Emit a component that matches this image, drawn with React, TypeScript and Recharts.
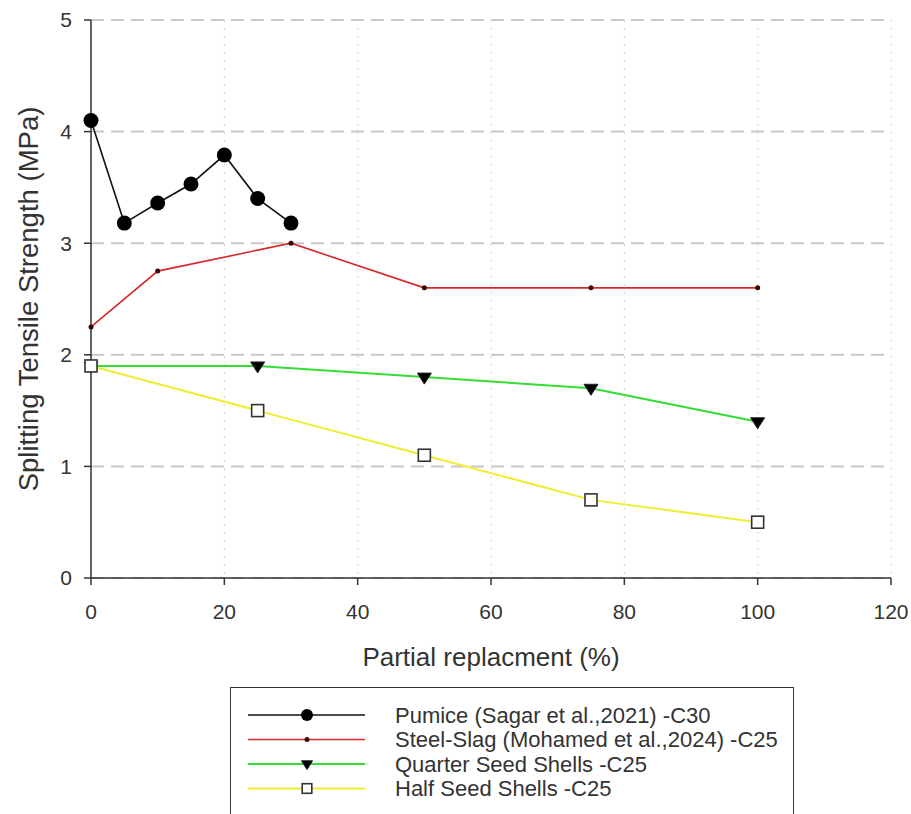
import React from 'react';
import { LineChart, Line, XAxis, YAxis, CartesianGrid } from 'recharts';

const pumiceX = [0, 5, 10, 15, 20, 25, 30];
const pumiceY = [4.1, 3.18, 3.36, 3.53, 3.79, 3.4, 3.18];
const steelX = [0, 10, 30, 50, 75, 100];
const steelY = [2.25, 2.75, 3.0, 2.6, 2.6, 2.6];
const quarterX = [0, 25, 50, 75, 100];
const quarterY = [1.9, 1.9, 1.8, 1.7, 1.4];
const halfX = [0, 25, 50, 75, 100];
const halfY = [1.9, 1.5, 1.1, 0.7, 0.5];
const xTicks = [0, 20, 40, 60, 80, 100, 120];
const yTicks = [0, 1, 2, 3, 4, 5];
const seriesNames = [
  'Pumice (Sagar et al.,2021) -C30',
  'Steel-Slag (Mohamed et al.,2024) -C25',
  'Quarter Seed Shells -C25',
  'Half Seed Shells -C25',
];
const xTitle = 'Partial replacment (%)';
const yTitle = 'Splitting Tensile Strength (MPa)';

const zip = (xs: number[], ys: number[]) => xs.map((x, i) => ({ x, y: ys[i] }));

const FONT = '"Liberation Sans", Arial, sans-serif';
const TXT = '#333333';

type Kind = 'circle' | 'dot' | 'tri' | 'square';

const Marker = ({ kind, cx, cy, scale = 1 }: { kind: Kind; cx: number; cy: number; scale?: number }) => {
  if (cx == null || cy == null) return null;
  if (kind === 'circle') return <circle cx={cx} cy={cy} r={7.5 * scale} fill="#000" />;
  if (kind === 'dot') return <circle cx={cx} cy={cy} r={2.5} fill="#3a0505" />;
  if (kind === 'tri') {
    const w = 7 * scale;
    const top = cy - 4 * scale;
    const bot = cy + 7 * scale;
    return <polygon points={`${cx - w},${top} ${cx + w},${top} ${cx},${bot}`} fill="#000" stroke="#222" strokeWidth={1} />;
  }
  const s = 6 * scale;
  return <rect x={cx - s} y={cy - s} width={2 * s} height={2 * s} fill="#fff" stroke="#333" strokeWidth={1.6} />;
};

const series = [
  { name: seriesNames[0], data: zip(pumiceX, pumiceY), color: '#111111', kind: 'circle' as Kind, width: 1.6 },
  { name: seriesNames[1], data: zip(steelX, steelY), color: '#d42a2a', kind: 'dot' as Kind, width: 1.6 },
  { name: seriesNames[2], data: zip(quarterX, quarterY), color: '#33dd33', kind: 'tri' as Kind, width: 2 },
  { name: seriesNames[3], data: zip(halfX, halfY), color: '#eeee33', kind: 'square' as Kind, width: 2 },
];

export default function App() {
  return (
    <div style={{ position: 'absolute', left: 0, top: 0, width: 911, height: 814, background: '#fff', fontFamily: FONT, overflow: 'hidden' }}>
      <LineChart width={911} height={814} margin={{ top: 20, right: 20, left: 23, bottom: 148 }}>
        <CartesianGrid horizontal={true} vertical={false} stroke="#c8c8c8" strokeWidth={2} strokeDasharray="13 7" />
        <CartesianGrid horizontal={false} vertical={true} stroke="#cfcfcf" strokeWidth={1} strokeDasharray="2 6" />
        <XAxis
          type="number"
          dataKey="x"
          domain={[0, 120]}
          ticks={xTicks}
          interval={0}
          height={88}
          tickSize={7}
          tickMargin={19}
          axisLine={{ stroke: '#333', strokeWidth: 1.5 }}
          tickLine={{ stroke: '#333', strokeWidth: 1.5 }}
          tick={{ fill: TXT, fontSize: 21, fontFamily: FONT }}
          label={{ value: xTitle, position: 'insideBottom', offset: 0, style: { fill: TXT, fontSize: 26, fontFamily: FONT } }}
        />
        <YAxis
          type="number"
          domain={[0, 5]}
          ticks={yTicks}
          interval={0}
          width={68}
          tickSize={7}
          tickMargin={12}
          axisLine={{ stroke: '#333', strokeWidth: 1.5 }}
          tickLine={{ stroke: '#333', strokeWidth: 1.5 }}
          tick={{ fill: TXT, fontSize: 21, fontFamily: FONT }}
          label={{ value: yTitle, angle: -90, position: 'insideLeft', offset: 5, style: { textAnchor: 'middle', fill: TXT, fontSize: 27.5, fontFamily: FONT } }}
        />
        {series.map((s) => (
          <Line
            key={s.name}
            data={s.data}
            dataKey="y"
            name={s.name}
            type="linear"
            stroke={s.color}
            strokeWidth={s.width}
            isAnimationActive={false}
            dot={(p: any) => <Marker key={`${s.name}-${p.index}`} kind={s.kind} cx={p.cx} cy={p.cy} />}
            activeDot={false}
          />
        ))}
      </LineChart>
      <div
        style={{
          position: 'absolute',
          left: 230,
          top: 687,
          width: 564,
          height: 160,
          border: '1.5px solid #333',
          boxSizing: 'border-box',
          background: '#fff',
        }}
      >
        <svg width={564} height={160} style={{ position: 'absolute', left: -1.5, top: -1.5 }}>
          {series.map((s, i) => {
            const y = 28 + i * 24.5;
            return (
              <g key={s.name}>
                <line x1={18} x2={135} y1={y} y2={y} stroke={s.color} strokeWidth={s.width} />
                <Marker kind={s.kind} cx={77} cy={y} scale={0.8} />
                <text x={165} y={y} dy="0.36em" fontSize={22} fill={TXT} fontFamily={FONT}>
                  {s.name}
                </text>
              </g>
            );
          })}
        </svg>
      </div>
    </div>
  );
}
